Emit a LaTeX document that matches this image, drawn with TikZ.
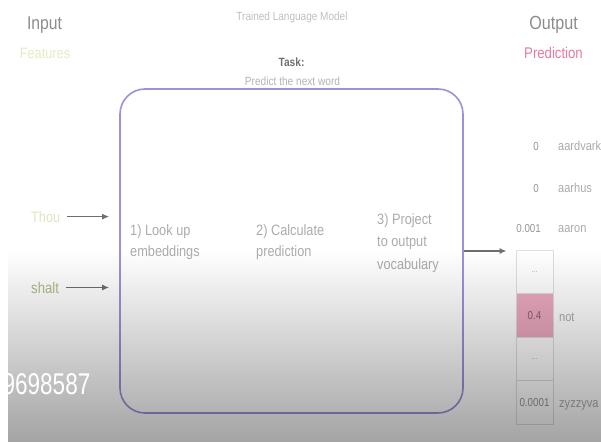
\documentclass[tikz,border=0pt]{standalone}
\usepackage{fontspec}
\setmainfont{Liberation Sans}[FakeStretch=0.85]
\newfontfamily\wmfont{Liberation Sans}[FakeStretch=0.75]
\usetikzlibrary{arrows.meta}
\definecolor{hdgray}{RGB}{140,140,140}
\definecolor{featgreen}{RGB}{228,236,196}
\definecolor{thougreen}{RGB}{224,230,190}
\definecolor{shaltgreen}{RGB}{172,190,134}
\definecolor{predpink}{RGB}{232,122,162}
\definecolor{lightgray}{RGB}{192,192,192}
\definecolor{taskgray}{RGB}{112,112,112}
\definecolor{subgray}{RGB}{180,180,180}
\definecolor{stepgray}{RGB}{172,172,172}
\definecolor{valgray}{RGB}{150,150,150}
\definecolor{wordgray}{RGB}{170,170,170}
\definecolor{cellline}{RGB}{222,222,222}
\definecolor{cellpink}{RGB}{238,170,194}
\definecolor{pinktext}{RGB}{140,96,112}
\definecolor{arrowgray}{RGB}{110,110,110}
\definecolor{boxpurple}{RGB}{160,144,220}
\definecolor{shadeA}{RGB}{198,198,198}
\definecolor{shadeB}{RGB}{164,164,164}
\begin{document}
\begin{tikzpicture}[x=1pt,y=-1pt,
  txt/.style={inner sep=0pt, anchor=base},
  arr/.style={draw=arrowgray, line width=1.6pt, -{Latex[length=7pt,width=6pt]}},
  steptext/.style={inner sep=0pt, anchor=north west, align=left, text=stepgray},
  cellbox/.style={draw=cellline, line width=0.8pt, minimum width=37pt, minimum height=43.5pt, inner sep=0pt},
  valtext/.style={inner sep=0pt, anchor=base east, text=valgray, font=\fontsize{11.5}{13}\selectfont},
  wordtext/.style={inner sep=0pt, anchor=base west, text=wordgray, font=\fontsize{13}{15}\selectfont}
]
\useasboundingbox (0,0) rectangle (601,441);
\clip (0,0) rectangle (601,441);
\fill[white] (0,0) rectangle (601,441);

% headers
\node[txt, text=hdgray, font=\fontsize{18.5}{20}\selectfont] (input) at (44.5,29.5) {Input};
\node[txt, text=featgreen, font=\fontsize{15}{17}\selectfont] (features) at (45,59) {Features};
\node[txt, text=hdgray, font=\fontsize{19}{21}\selectfont] (output) at (553.5,29.5) {Output};
\node[txt, text=predpink, font=\fontsize{15.5}{17}\selectfont] (prediction) at (553.5,59) {Prediction};
\node[txt, text=lightgray, font=\fontsize{11.8}{13}\selectfont] (tlm) at (292,20.5) {Trained Language Model};
\node[txt, text=taskgray, font=\bfseries\fontsize{12}{13}\selectfont] (task) at (291.5,67) {Task:};
\node[txt, text=subgray, font=\fontsize{11.9}{13}\selectfont] (ptnw) at (292.5,85) {Predict the next word};

% model box
\node[draw=boxpurple, line width=1.6pt, rounded corners=25pt, minimum width=343pt, minimum height=324pt, inner sep=0pt] (model) at (291.5,251) {};

% steps
\node[steptext, font=\fontsize{15}{21}\selectfont] (s1) at (130,224) {1) Look up\\embeddings};
\node[steptext, font=\fontsize{15}{21}\selectfont] (s2) at (256,224) {2) Calculate\\prediction};
\node[steptext, font=\fontsize{15}{22.5}\selectfont] (s3) at (377,213) {3) Project\\to output\\vocabulary};

% inputs
\node[txt, anchor=base west, text=thougreen, font=\fontsize{15}{17}\selectfont] (thou) at (31,222) {Thou};
\node[txt, anchor=base west, text=shaltgreen, font=\fontsize{15.5}{17}\selectfont] (shalt) at (31,293) {shalt};
\draw[arr] ([xshift=7pt]thou.east) -- ([xshift=-10pt]model.west |- thou.east);
\draw[arr] ([xshift=7pt]shalt.east) -- ([xshift=-10pt]model.west |- shalt.east);

% output vocabulary
\node[valtext] (v1) at (539,150) {0};
\node[wordtext] (w1) at (558,150) {aardvark};
\node[valtext] (v2) at (539,192) {0};
\node[wordtext] (w2) at (558,192) {aarhus};
\node[valtext] (v3) at (541,232) {0.001};
\node[wordtext] (w3) at (558,232) {aaron};

\node[cellbox, text=subgray, font=\fontsize{9}{10}\selectfont] (c1) at (534.5,271.75) {...};
\node[cellbox, fill=cellpink, text=pinktext, font=\fontsize{11.5}{13}\selectfont] (c2) at (534.5,315.25) {0.4};
\node[cellbox, text=subgray, font=\fontsize{9}{10}\selectfont] (c3) at (534.5,358.75) {...};
\node[cellbox, text=valgray, font=\fontsize{11.5}{13}\selectfont] (c4) at (534.5,402.25) {0.0001};
\node[wordtext, anchor=base west] (w4) at (559,321) {not};
\node[wordtext, anchor=base west] (w5) at (559,407) {zyzzyva};

\draw[arr] (model.east) -- ([xshift=-9pt]c1.north west |- model.east);

% darkening overlay
\begin{scope}[blend mode=multiply]
\shade[top color=white, middle color=shadeA, bottom color=shadeB] (8,250) rectangle (601,441);
\end{scope}

% watermark
\node[txt, anchor=base west, text=white, font=\wmfont\fontsize{30}{32}\selectfont] (wm) at (2.5,394) {9698587};
\end{tikzpicture}
\end{document}
